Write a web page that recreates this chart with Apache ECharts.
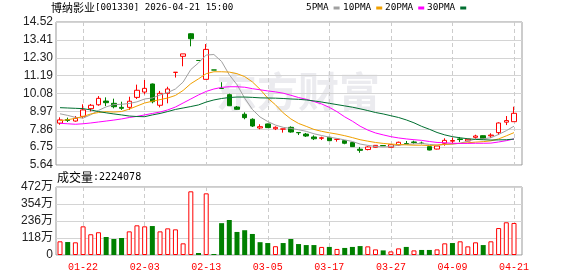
<!DOCTYPE html>
<html><head><meta charset="utf-8">
<script src="https://cdn.jsdelivr.net/npm/echarts@6/dist/echarts.min.js"></script>
<style>html,body{margin:0;padding:0;background:#fff}#c{width:578px;height:276px}</style>
</head><body><div id="c"></div>
<script>
const stockName = '博纳影业';
const stockCode = '001330';
const stamp = '2026-04-21 15:00';
const dates = ['01-19','01-20','01-21','01-22','01-23','01-26','01-27','01-28','01-29','01-30',
 '02-02','02-03','02-04','02-05','02-06','02-09','02-10','02-11','02-12','02-13',
 '02-24','02-25','02-26','02-27','03-02','03-03','03-04','03-05','03-06','03-09',
 '03-10','03-11','03-12','03-13','03-16','03-17','03-18','03-19','03-20','03-23',
 '03-24','03-25','03-26','03-27','03-30','03-31','04-01','04-02','04-03','04-07',
 '04-08','04-09','04-10','04-13','04-14','04-15','04-16','04-17','04-20','04-21'];
const opens = [8.24,8.46,8.37,8.66,9.14,9.38,9.61,9.47,9.22,9.22,
 9.84,10.17,10.67,9.35,10.09,11.39,12.39,13.79,12.13,10.96,
 11.54,10.39,10.01,9.24,8.79,8.48,7.94,8.19,7.89,7.87,
 7.98,7.66,7.56,7.38,7.30,7.36,7.23,7.15,7.03,6.62,
 6.60,6.74,6.85,6.74,6.88,6.97,7.07,7.00,6.78,6.63,
 6.99,7.12,7.26,7.13,7.36,7.46,7.45,7.65,8.30,8.33];
const closes = [8.44,8.41,8.54,9.06,9.35,9.78,9.51,9.26,9.16,9.60,
 10.28,10.40,9.57,10.09,10.36,11.40,12.54,13.48,12.13,12.82,
 11.54,10.39,9.32,9.10,8.58,8.06,8.02,7.96,7.98,7.88,
 7.69,7.64,7.44,7.27,7.33,7.15,7.24,6.99,6.78,6.55,
 6.76,6.86,6.83,6.90,7.05,6.95,7.04,6.98,6.57,6.82,
 7.17,7.16,7.22,7.24,7.44,7.27,7.50,8.25,8.40,8.85];
const lows = [8.14,8.31,8.33,8.54,8.97,9.32,9.30,9.16,9.06,9.06,
 9.74,10.03,9.47,9.22,9.47,11.07,11.77,13.01,12.13,10.96,
 11.54,10.39,9.30,9.06,8.48,8.00,7.86,7.94,7.81,7.65,
 7.65,7.50,7.38,7.19,7.19,7.13,7.09,6.93,6.76,6.40,
 6.55,6.72,6.82,6.72,6.86,6.95,6.96,6.93,6.55,6.61,
 6.84,6.99,7.07,7.11,7.27,7.25,7.32,7.50,8.12,8.33];
const highs = [8.60,8.58,8.68,9.41,9.43,9.92,9.84,9.76,9.57,9.88,
 10.63,10.92,10.70,10.24,10.50,11.40,12.54,13.82,12.13,13.15,
 11.54,10.78,10.07,9.30,8.91,8.54,8.17,8.21,8.04,7.89,
 8.04,7.67,7.63,7.48,7.40,7.38,7.25,7.19,7.05,6.76,
 6.81,6.87,6.86,6.92,7.09,7.13,7.15,7.09,6.78,6.82,
 7.30,7.34,7.38,7.26,7.52,7.48,7.61,8.29,8.68,9.26];
const volumes = [950000,900000,880000,1990000,1440000,1580000,1250000,1110000,1180000,1640000,
 2060000,1990000,2010000,1640000,1850000,1780000,810000,4420000,140000,4280000,
 70000,2210000,2430000,1600000,1720000,1460000,890000,830000,610000,830000,
 1110000,760000,690000,690000,560000,560000,420000,490000,560000,620000,
 600000,390000,320000,250000,460000,560000,320000,350000,350000,390000,
 810000,830000,950000,600000,880000,690000,950000,1870000,2270000,2224078];
const ma5 = [8.82,8.72,8.60,8.55,8.76,9.03,9.25,9.39,9.41,9.46,
 9.56,9.74,9.80,9.99,10.14,10.36,10.79,11.57,11.98,12.47,
 12.50,12.07,11.24,10.63,9.79,9.09,8.62,8.34,8.12,7.98,
 7.91,7.83,7.73,7.58,7.47,7.37,7.29,7.20,7.10,6.94,
 6.86,6.79,6.76,6.78,6.88,6.92,6.95,6.98,6.92,6.87,
 6.92,6.94,6.99,7.12,7.25,7.27,7.33,7.54,7.77,8.05];
const ma10 = [8.39,8.45,8.54,8.65,8.81,8.90,8.95,8.93,8.96,9.11,
 9.30,9.49,9.60,9.70,9.80,9.96,10.27,10.69,10.99,11.31,
 11.43,11.43,11.41,11.31,11.13,10.80,10.34,9.79,9.38,8.88,
 8.50,8.22,8.04,7.85,7.73,7.64,7.56,7.46,7.34,7.21,
 7.12,7.04,6.98,6.94,6.91,6.89,6.87,6.87,6.85,6.88,
 6.92,6.95,6.99,7.02,7.06,7.09,7.14,7.26,7.45,7.65];
const ma20 = [8.23,8.20,8.17,8.20,8.25,8.31,8.37,8.43,8.50,8.59,
 8.66,8.75,8.84,8.93,9.06,9.24,9.49,9.74,9.99,10.21,
 10.36,10.46,10.50,10.50,10.47,10.38,10.31,10.24,10.18,10.10,
 9.97,9.83,9.72,9.58,9.43,9.22,8.95,8.63,8.36,8.05,
 7.81,7.63,7.51,7.40,7.32,7.26,7.21,7.17,7.10,7.04,
 7.02,6.99,6.98,6.98,6.99,6.99,7.00,7.07,7.15,7.26];
const ma30 = [9.20,9.18,9.16,9.14,9.06,8.96,8.88,8.81,8.75,8.68,
 8.65,8.64,8.75,8.84,8.96,9.09,9.18,9.27,9.37,9.55,
 9.68,9.77,9.83,9.86,9.86,9.84,9.81,9.80,9.79,9.77,
 9.74,9.72,9.68,9.62,9.55,9.47,9.39,9.31,9.23,9.13,
 9.02,8.90,8.81,8.70,8.59,8.44,8.26,8.04,7.86,7.66,
 7.51,7.40,7.33,7.27,7.23,7.21,7.19,7.20,7.21,7.25];
const priceTicks = ['5.64','6.75','7.86','8.97','10.08','11.19','12.30','13.41','14.52'];
const volTicks = ['0','118万','236万','354万','472万'];
const volMax = 4720000;
const maNames = ['5PMA','10PMA','20PMA','30PMA'];

const RED = '#ff0000', GREEN = '#008000';
const MA_COLORS = ['#a0a0a0','#f0a000','#ff00ff','#006f30'];
const MONO = "'DejaVu Sans Mono',monospace";
const CJK = "'Noto Sans CJK SC',sans-serif";
const LABEL_SHOW = (i) => (i - 3) % 8 === 0;

const chart = echarts.init(document.getElementById('c'), null, {renderer: 'canvas'});
const kdata = dates.map((d, i) => [opens[i], closes[i], lows[i], highs[i]]);
const volData = volumes.map((v, i) => {
  const up = i === 0 ? closes[0] >= opens[0] : closes[i] >= closes[i - 1];
  return {value: v, itemStyle: up ? {color: '#fff', borderColor: RED, borderWidth: 1} : {color: GREEN, borderColor: GREEN, borderWidth: 0}};
});
const mas = [ma5, ma10, ma20, ma30];
const GL = 56, GR = 578 - 522, DL = 60, DR = 578 - 514;
const legendLefts = [306, 343, 385, 427];

chart.setOption({
  animation: false,
  backgroundColor: '#fff',
  title: [
    {text: '{c|' + stockName + '}{a|[' + stockCode + '] ' + stamp + '}', left: 51, top: 2, padding: 0,
     textStyle: {fontWeight: 'normal', rich: {
       c: {fontSize: 11, fontFamily: CJK, fontWeight: 'normal', color: '#000', lineHeight: 12},
       a: {fontSize: 9.2, fontFamily: MONO, fontWeight: 'normal', color: '#000', lineHeight: 12}
     }}},
    {text: '{c|成交量}{a|:' + volumes[volumes.length - 1] + '}', left: 57, top: 171, padding: 0,
     textStyle: {fontWeight: 'normal', rich: {
       c: {fontSize: 12, fontFamily: CJK, fontWeight: 'normal', color: '#000', lineHeight: 12},
       a: {fontSize: 10, fontFamily: MONO, fontWeight: 'normal', color: '#000', lineHeight: 12}
     }}}
  ],
  legend: maNames.map((n, k) => ({
    data: [n], left: legendLefts[k], top: 3.5, padding: 0, align: 'right', icon: 'rect',
    itemWidth: 6, itemHeight: 3, selectedMode: false,
    textStyle: {fontSize: 9.4, color: '#000', fontFamily: MONO}
  })),
  graphic: [{type: 'text', left: 216, top: 71, silent: true, z: -10,
    style: {text: '东方财富', font: 'bold 41px "Noto Sans CJK SC"', fill: '#ebebef'}}],
  grid: [
    {left: GL, right: GR, top: 22, height: 143, show: true, borderColor: '#999', borderWidth: 1, backgroundColor: 'transparent'},
    {left: GL, right: GR, top: 187, height: 68, show: true, borderColor: '#999', borderWidth: 1, backgroundColor: 'transparent'},
    {left: DL, right: DR, top: 22, height: 143},
    {left: DL, right: DR, top: 187, height: 68}
  ],
  xAxis: [
    {type: 'value', gridIndex: 0, show: false, min: 0, max: 1},
    {type: 'value', gridIndex: 1, show: false, min: 0, max: 1},
    {type: 'category', gridIndex: 2, data: dates, boundaryGap: false,
     axisLine: {show: false}, axisTick: {show: false}, axisLabel: {show: false},
     splitLine: {show: true, interval: LABEL_SHOW, lineStyle: {color: '#cccccc', type: [4, 3], width: 1}}},
    {type: 'category', gridIndex: 3, data: dates, boundaryGap: false,
     axisLine: {show: false}, axisTick: {show: false},
     axisLabel: {interval: LABEL_SHOW, color: RED, fontSize: 10, fontFamily: "'Liberation Mono',monospace", margin: 7},
     splitLine: {show: true, interval: LABEL_SHOW, lineStyle: {color: '#cccccc', type: [4, 3], width: 1}}}
  ],
  yAxis: [
    {type: 'value', gridIndex: 0, min: 0, max: priceTicks.length - 1, interval: 1,
     axisLine: {show: false}, axisTick: {show: false},
     axisLabel: {formatter: v => priceTicks[v], color: '#222', fontSize: 12, fontFamily: "'Liberation Sans',sans-serif", margin: 3},
     splitLine: {lineStyle: {color: '#d4d4d4', width: 1}}},
    {type: 'value', gridIndex: 1, min: 0, max: volTicks.length - 1, interval: 1,
     axisLine: {show: false}, axisTick: {show: false},
     axisLabel: {formatter: v => volTicks[v], color: '#222', fontSize: 12, fontFamily: "'Liberation Sans','Noto Sans CJK SC',sans-serif", margin: 3},
     splitLine: {lineStyle: {color: '#d4d4d4', width: 1}}},
    {type: 'value', gridIndex: 2, min: parseFloat(priceTicks[0]), max: parseFloat(priceTicks[priceTicks.length - 1]), show: false, splitLine: {show: false}},
    {type: 'value', gridIndex: 3, min: 0, max: volMax, show: false, splitLine: {show: false}}
  ],
  series: [
    {type: 'candlestick', xAxisIndex: 2, yAxisIndex: 2, data: kdata, barWidth: 5,
     itemStyle: {color: '#fff', color0: GREEN, borderColor: RED, borderColor0: GREEN, borderWidth: 1}},
    ...maNames.map((n, k) => ({
      name: n, type: 'line', xAxisIndex: 2, yAxisIndex: 2, data: mas[k], showSymbol: false, symbol: 'none',
      lineStyle: {color: MA_COLORS[k], width: 1}, itemStyle: {color: MA_COLORS[k]}, z: 3
    })),
    {type: 'bar', xAxisIndex: 3, yAxisIndex: 3, data: volData, barWidth: 5}
  ]
});
</script></body></html>
